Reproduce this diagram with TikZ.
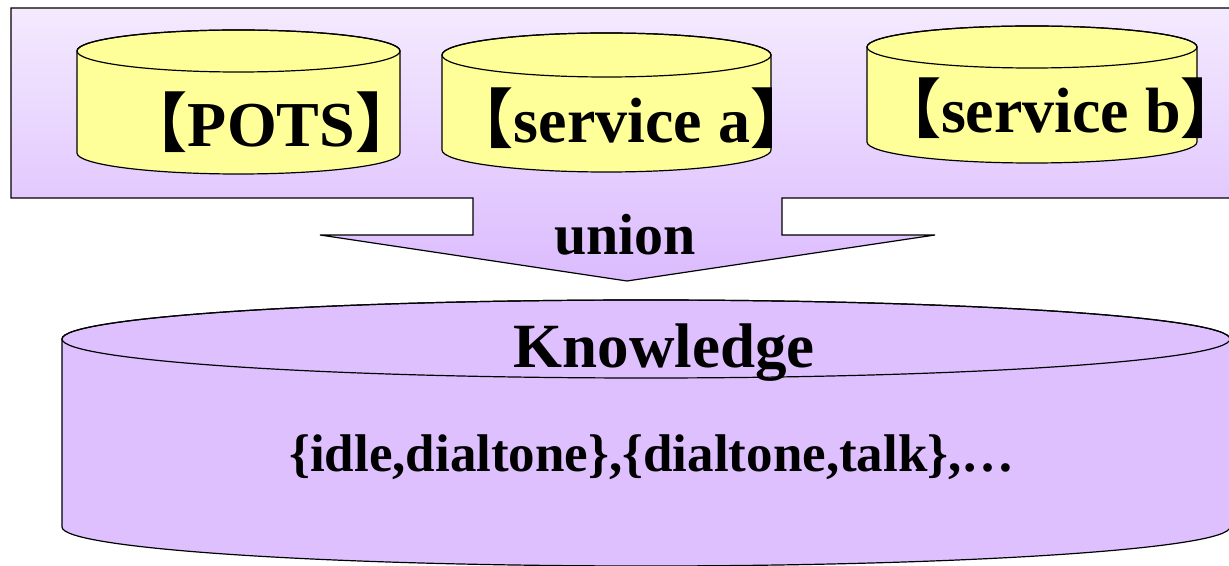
\documentclass[tikz,border=0pt]{standalone}
\usepackage{fontspec}
\setmainfont{Liberation Serif}
\newfontfamily\cjk{Noto Sans CJK SC}
\definecolor{drumyellow}{HTML}{FFFF99}
\definecolor{knowviolet}{HTML}{DFC0FF}
\definecolor{boxtop}{HTML}{F4EAFE}
\definecolor{boxbot}{HTML}{DBBBFE}
\newcommand{\lb}{\kern-.45em{\cjk 【}}
\newcommand{\rb}{{\cjk 】}\kern-.45em}
% #1 fill, #2 centre x, #3 top y, #4 bottom y, #5 x radius, #6 y radius
\newcommand{\dbdrum}[6]{%
  \path[edge,fill=#1] (#2-#5,#3) -- (#2-#5,#4)
    arc[start angle=180,end angle=360,x radius=#5pt,y radius=#6pt]
    -- (#2+#5,#3)
    arc[start angle=0,end angle=180,x radius=#5pt,y radius=#6pt] -- cycle;
  \draw[edge] (#2,#3) ellipse[x radius=#5pt,y radius=#6pt];
}
\tikzset{
  edge/.style={draw=black,line width=1.2pt},
  lbl/.style={font=\bfseries\fontsize{64}{70}\selectfont,inner sep=0pt,anchor=base},
}
\begin{document}
\begin{tikzpicture}[x=1pt,y=1pt]
\useasboundingbox (0,0) rectangle (1229,565);
\path[edge,top color=boxtop,bottom color=boxbot] (11,557) -- (1231,557) -- (1231,367) -- (782,367) -- (782,330) -- (935,330) -- (627,284) -- (320,330) -- (473,330) -- (473,367) -- (11,367) -- cycle;
\dbdrum{drumyellow}{238.5}{514}{412}{161.5}{21}
\dbdrum{drumyellow}{606.5}{510}{415}{164.5}{22}
\dbdrum{drumyellow}{1032}{518}{423}{165}{21}
\dbdrum{knowviolet}{646}{226}{38}{584}{39}
\node[lbl] (pots) at (271.5,418) {\lb POTS\rb};
\node[lbl] (sa) at (632,422) {\lb service a\rb};
\node[lbl] (sb) at (1061,432) {\lb service b\rb};
\node[lbl,font=\bfseries\fontsize{58}{64}\selectfont] (union) at (625,310) {union};
\node[lbl,font=\bfseries\fontsize{63}{70}\selectfont] (know) at (664,197) {Knowledge};
\node[lbl,font=\bfseries\fontsize{53}{60}\selectfont] (states) at (652,93) {\{idle,dialtone\},\{dialtone,talk\},…};
\end{tikzpicture}
\end{document}
